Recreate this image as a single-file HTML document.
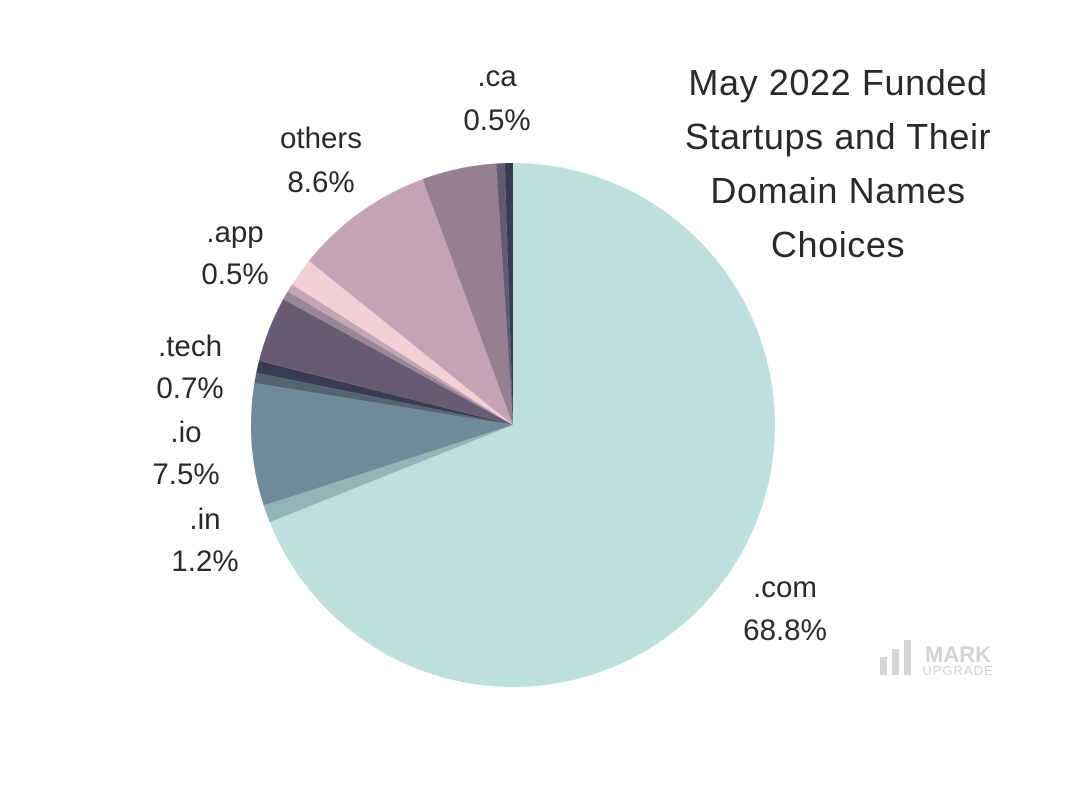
<!DOCTYPE html>
<html><head><meta charset="utf-8"><style>
html,body{margin:0;padding:0;background:#fff;}
svg text{font-family:"Liberation Sans",sans-serif;fill:#2a2a2a;font-size:29.5px;text-anchor:middle;}
svg text.t{font-size:36px;letter-spacing:0.6px;}
</style></head><body>
<svg width="1080" height="800" viewBox="0 0 1080 800" xmlns="http://www.w3.org/2000/svg">
<g id="pie"></g>
<text class="t" x="838" y="95">May 2022 Funded</text>
<text class="t" x="838" y="149">Startups and Their</text>
<text class="t" x="838" y="203">Domain Names</text>
<text class="t" x="838" y="257">Choices</text>
<text x="497" y="86">.ca</text><text x="497" y="130">0.5%</text>
<text x="321" y="148">others</text><text x="321" y="192">8.6%</text>
<text x="235" y="242">.app</text><text x="235" y="284">0.5%</text>
<text x="190" y="356">.tech</text><text x="190" y="398">0.7%</text>
<text x="186" y="442">.io</text><text x="186" y="484">7.5%</text>
<text x="205" y="529">.in</text><text x="205" y="571">1.2%</text>
<text x="785" y="597">.com</text><text x="785" y="640">68.8%</text>
<g fill="#d6d6d6">
<rect x="880" y="657" width="7" height="18"/><rect x="892" y="649" width="7" height="26"/><rect x="904" y="640" width="7" height="35"/>
</g>
<text x="958" y="662" style="font-size:22px;fill:#d3d3d3;font-weight:bold">MARK</text>
<text x="958" y="675" style="font-size:13px;fill:#d3d3d3;letter-spacing:1px">UPGRADE</text>
</svg>
<script>
var cx=513,cy=425,r=262;
var b=[0,248.2,252.1,279.2,281.5,284.2,298.7,300.7,302.5,308.8,339.8,356.3,358.2,360];
var c=["#bce0dc","#93b5b8","#6f8a98","#536474","#383b52","#675b73","#9a8597","#c4a5b4","#f2d0d5","#c4a4b4","#957f93","#615a72","#383b52"];
var g=document.getElementById("pie"),s="";
function p(a){a=a*Math.PI/180;return (cx+r*Math.sin(a)).toFixed(2)+","+(cy-r*Math.cos(a)).toFixed(2);}
for(var i=0;i<c.length;i++){var a0=b[i],a1=b[i+1];
s+='<path fill="'+c[i]+'" d="M'+cx+','+cy+' L'+p(a0)+' A'+r+','+r+' 0 '+((a1-a0)>180?1:0)+' 1 '+p(a1)+' Z"/>';}
g.innerHTML=s;
</script>
</body></html>
